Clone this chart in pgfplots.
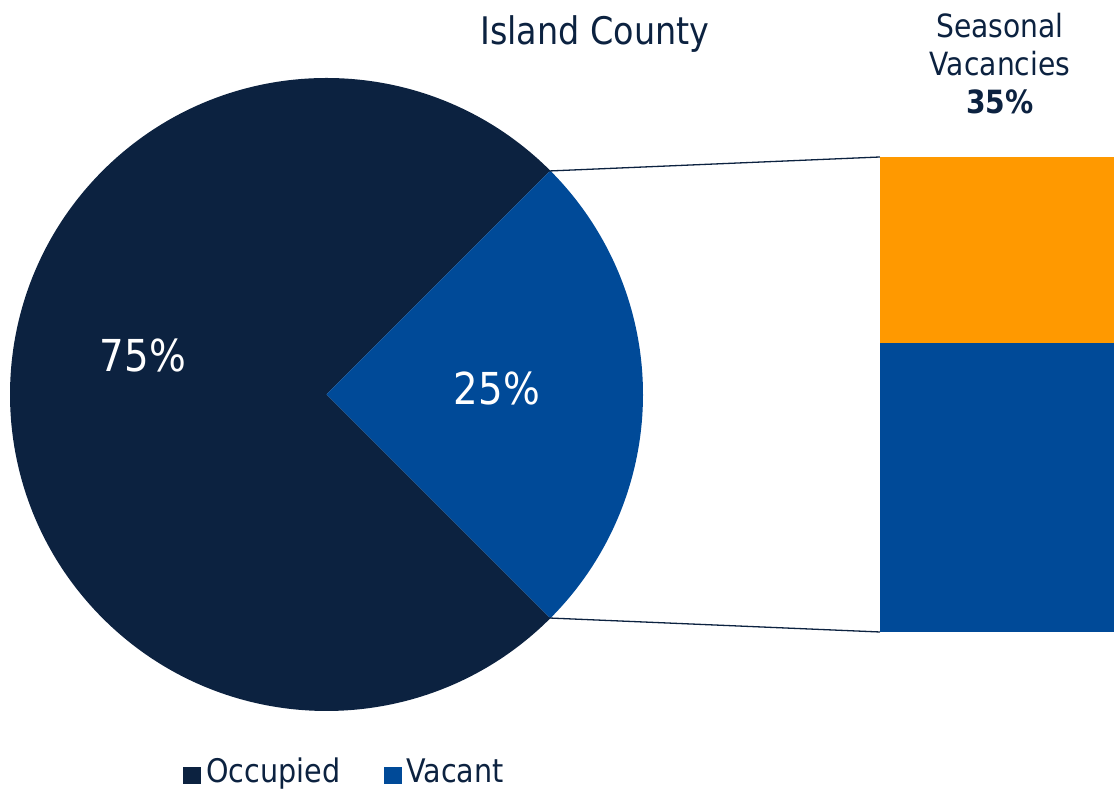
\documentclass[border=0pt]{standalone}
\usepackage{pgfplots}
\usepackage{pgfplotstable}
\usepackage{fontspec}
\setmainfont[FakeStretch=0.88]{DejaVu Sans}
\pgfplotsset{compat=1.18}
\definecolor{navy}{HTML}{0C2240}
\definecolor{vblue}{HTML}{004A98}
\definecolor{vorange}{HTML}{FF9900}
\pgfplotstableread{
label value
Occupied 75
Vacant 25
}\piedata
\pgfplotstableread{
x other seasonal
0 60.8 39.2
}\bardata
\begin{document}
\begin{tikzpicture}
\begin{axis}[name=main, scale only axis, width=1114pt, height=791pt,
  xmin=0, xmax=1114, ymin=0, ymax=791, hide axis, clip=false]
\pgfplotstablegetelem{1}{value}\of\piedata
\pgfmathsetmacro{\vspan}{\pgfplotsretval*3.6}
\pgfmathsetmacro{\astart}{-\vspan/2}
\pgfmathsetmacro{\aend}{\vspan/2}
\pgfmathsetmacro{\oend}{360-\vspan/2}
\fill[navy] (axis cs:326.5,396.5) -- ++(\aend:316.5pt) arc[start angle=\aend, end angle=\oend, radius=316.5pt] -- cycle;
\fill[vblue] (axis cs:326.5,396.5) -- ++(\astart:316.5pt) arc[start angle=\astart, end angle=\aend, radius=316.5pt] -- cycle;
\draw[navy, line width=1.3pt] (axis cs:549,620) -- (axis cs:880,634);
\draw[navy, line width=1.3pt] (axis cs:549,173) -- (axis cs:880,159);
\node[text=white, font=\fontsize{44}{46}\selectfont] at (axis cs:143,436) {75\%};
\node[text=white, font=\fontsize{44}{46}\selectfont] at (axis cs:497,403) {25\%};
\node[text=navy, font=\fontsize{38}{40}\selectfont] at (axis cs:595,757) {Island County};
\node[text=navy, font=\fontsize{32}{38}\selectfont, align=center] at (axis cs:1000,727) {Seasonal\\Vacancies\\\textbf{35\%}};
\fill[navy] (axis cs:183,24) rectangle (axis cs:201,7);
\node[text=navy, font=\fontsize{32.5}{34}\selectfont, anchor=base west, inner sep=0pt] at (axis cs:206,8.5) {Occupied};
\fill[vblue] (axis cs:384,24) rectangle (axis cs:402,7);
\node[text=navy, font=\fontsize{32.5}{34}\selectfont, anchor=base west, inner sep=0pt] at (axis cs:406,8.5) {Vacant};
\end{axis}
\begin{axis}[scale only axis, width=234pt, height=475pt, at={(880pt,159pt)}, anchor=south west,
  xmin=-0.5, xmax=0.5, ymin=0, ymax=100, hide axis, ybar stacked, bar width=1]
\addplot[fill=vblue, draw=none] table[x=x, y=other] {\bardata};
\addplot[fill=vorange, draw=none] table[x=x, y=seasonal] {\bardata};
\end{axis}
\pgfresetboundingbox
\path (0,0) rectangle (1114pt,791pt);
\end{tikzpicture}
\end{document}
